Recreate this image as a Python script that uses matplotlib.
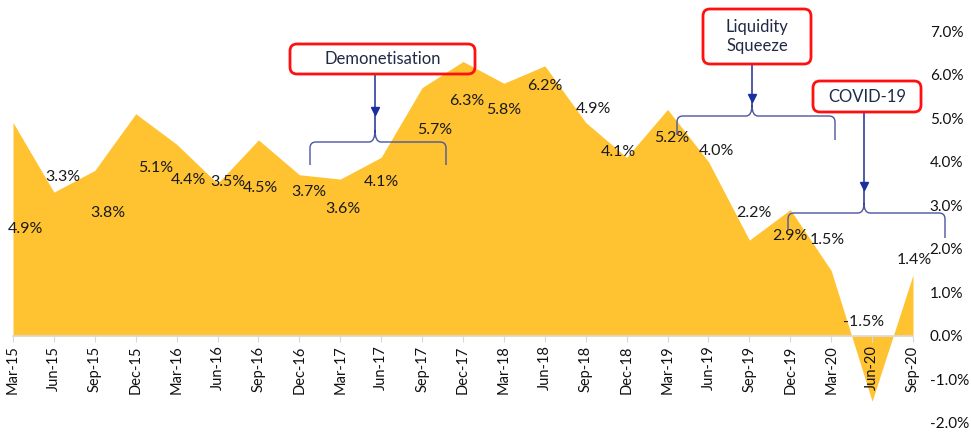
import matplotlib.pyplot as plt
from matplotlib.patches import FancyBboxPatch
from matplotlib.path import Path
from matplotlib.patches import PathPatch

quarters = ["Mar-15", "Jun-15", "Sep-15", "Dec-15", "Mar-16", "Jun-16", "Sep-16", "Dec-16",
            "Mar-17", "Jun-17", "Sep-17", "Dec-17", "Mar-18", "Jun-18", "Sep-18", "Dec-18",
            "Mar-19", "Jun-19", "Sep-19", "Dec-19", "Mar-20", "Jun-20", "Sep-20"]
growth = [4.9, 3.3, 3.8, 5.1, 4.4, 3.5, 4.5, 3.7, 3.6, 4.1, 5.7, 6.3, 5.8, 6.2, 4.9, 4.1,
          5.2, 4.0, 2.2, 2.9, 1.5, -1.5, 1.4]
# where excel put each data label (x in quarters, y in %)
label_pos = [(0.3, 2.46), (1.22, 3.65), (2.32, 2.82), (3.5, 3.85), (4.3, 3.58), (5.25, 3.53),
             (6.05, 3.39), (7.24, 3.3), (8.07, 2.91), (9.0, 3.53), (10.3, 4.72), (11.1, 5.39),
             (12.0, 5.18), (13.0, 5.73), (14.2, 5.2), (14.8, 4.22), (16.1, 4.54), (17.2, 4.24),
             (18.1, 2.82), (19.0, 2.29), (19.9, 2.2), (20.8, 0.32), (22.03, 1.74)]
yticks = [-2, -1, 0, 1, 2, 3, 4, 5, 6, 7]

plt.rcParams['font.family'] = ['Lato', 'DejaVu Sans']
W, H = 971, 434
fig = plt.figure(figsize=(W / 100, H / 100), dpi=100)
ax = fig.add_axes([13 / W, 1 - 423 / H, 900 / W, 392 / H])

x = list(range(len(quarters)))
ax.fill_between(x, growth, 0, color="#FFC331", linewidth=0)
ax.set_xlim(0, 22)
ax.set_ylim(-2, 7)

for s in ["top", "left", "right"]:
    ax.spines[s].set_visible(False)
ax.spines["bottom"].set_position(("data", 0))
ax.spines["bottom"].set_color("#D9D9D9")
ax.spines["bottom"].set_linewidth(1.2)
ax.set_xticks(x)
ax.set_xticklabels(quarters, rotation=90, fontsize=10.5, color="#111111")
ax.tick_params(axis="x", direction="out", length=4, color="#D9D9D9", pad=3)

ax.yaxis.tick_right()
ax.set_yticks(yticks)
ax.set_yticklabels([f"{v:.1f}%" for v in yticks], fontsize=11, color="#111111")
ax.tick_params(axis="y", length=0, pad=12)

for v, (lx, ly) in zip(growth, label_pos):
    ax.text(lx, ly, f"{v:.1f}%", ha="center", va="center", fontsize=11.5, color="#1a1a1a", zorder=4)

# overlay in pixel units for the callouts
ov = fig.add_axes([0, 0, 1, 1])
ov.set_xlim(0, W)
ov.set_ylim(H, 0)
ov.axis("off")
ov.patch.set_alpha(0)

blue = "#2F3F9E"


def callout_box(x0, y0, x1, y1, text):
    ov.add_patch(FancyBboxPatch((x0, y0), x1 - x0, y1 - y0, boxstyle="round,pad=0,rounding_size=7",
                                facecolor="none", edgecolor="#FF1010", linewidth=2.0, zorder=5))
    ov.text((x0 + x1) / 2, (y0 + y1) / 2, text, ha="center", va="center", fontsize=12,
            color="#1F2A44", linespacing=1.3, zorder=6)


def brace(xl, xr, xc, y, yl_end, yr_end, top):
    r = 6
    verts = [(xl, yl_end), (xl, y + r), (xl, y), (xl + r, y), (xc - r, y), (xc, y), (xc, top),
             (xc, y), (xc + r, y), (xr - r, y), (xr, y), (xr, y + r), (xr, yr_end)]
    codes = [Path.MOVETO, Path.LINETO, Path.CURVE3, Path.CURVE3, Path.LINETO, Path.CURVE3, Path.CURVE3,
             Path.CURVE3, Path.CURVE3, Path.LINETO, Path.CURVE3, Path.CURVE3, Path.LINETO]
    ov.add_patch(PathPatch(Path(verts, codes), facecolor="none", edgecolor="#4A55A0", linewidth=1.0))


def arrow(xc, y0, y1, ytip):
    ov.plot([xc, xc], [y0, y1], color=blue, linewidth=1.2)
    ov.plot([xc], [ytip - 4], marker="v", markersize=6, color="#1A2FA0")


callout_box(290, 44, 475, 74, "Demonetisation")
arrow(375, 74, 132, 115)
brace(310, 446, 375, 142, 165, 165, 130)

callout_box(703, 9, 811, 64, "Liquidity\nSqueeze")
arrow(752, 64, 106, 102)
brace(677, 835, 752, 116, 135, 140, 105)

callout_box(813, 81, 921, 112, "COVID-19")
arrow(864, 112, 204, 190)
brace(788, 945, 864, 213, 230, 238, 203)

fig.savefig("out.png", dpi=100)
